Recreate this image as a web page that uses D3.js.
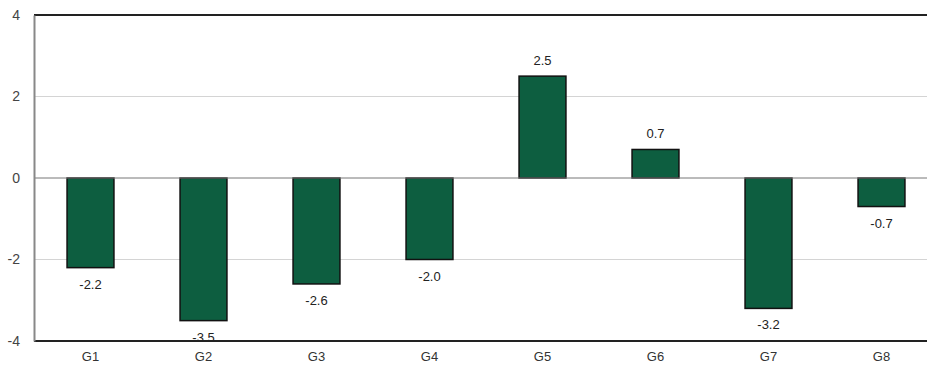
<!DOCTYPE html>
<html><head><meta charset="utf-8">
<script src="https://cdn.jsdelivr.net/npm/d3@7"></script>
<style>body{margin:0;background:#fff}svg{display:block}text{font-family:"Liberation Sans",Arial,sans-serif}</style>
</head><body><svg id="c" width="927" height="371"></svg>
<script>
const categories = ["G1","G2","G3","G4","G5","G6","G7","G8"];
const values = [-2.2,-3.5,-2.6,-2.0,2.5,0.7,-3.2,-0.7];
const yTicks = [4,2,0,-2,-4];

const svg = d3.select("#c");
const m = {left:34, top:15, right:-11, bottom:30};
const W = 927, H = 371;
const x = d3.scaleBand().domain(categories).range([m.left, W - m.right]).paddingInner(0.585).paddingOuter(0.2925);
const y = d3.scaleLinear().domain([-4,4]).range([341, 15]);

// gridlines
svg.append("g").selectAll("line").data(yTicks.filter(d => d===2 || d===-2)).join("line")
  .attr("x1", m.left).attr("x2", W).attr("y1", d => y(d)).attr("y2", d => y(d))
  .attr("stroke", "#d4d4d4").attr("stroke-width", 1);

// bars
svg.append("g").selectAll("rect").data(values).join("rect")
  .attr("x", (d,i) => x(categories[i]))
  .attr("width", x.bandwidth())
  .attr("y", d => y(Math.max(0,d)))
  .attr("height", d => Math.abs(y(d) - y(0)))
  .attr("fill", "#0d5e40").attr("stroke", "#111").attr("stroke-width", 1.5);

// zero line
svg.append("line").attr("x1", m.left).attr("x2", W).attr("y1", y(0)).attr("y2", y(0))
  .attr("stroke", "#777").attr("stroke-width", 1);

// frame
svg.append("line").attr("x1", m.left).attr("x2", W).attr("y1", y(4)).attr("y2", y(4)).attr("stroke", "#222").attr("stroke-width", 2);
svg.append("line").attr("x1", m.left).attr("x2", W).attr("y1", y(-4)).attr("y2", y(-4)).attr("stroke", "#222").attr("stroke-width", 2);

// y axis
const ya = d3.axisLeft(y).tickValues(yTicks).tickSize(0).tickPadding(14).tickFormat(d => String(d));
const gy = svg.append("g").attr("transform", `translate(${m.left},0)`).call(ya);
gy.select(".domain").attr("stroke", "#888").attr("stroke-width", 2);
gy.selectAll("text").attr("font-size", 14).attr("fill", "#444");

// x axis
const xa = d3.axisBottom(x).tickSize(0).tickPadding(11);
const gx = svg.append("g").attr("transform", `translate(0,${y(-4)})`).call(xa);
gx.select(".domain").remove();
gx.selectAll("text").attr("font-size", 13).attr("fill", "#333");

// value labels
svg.append("g").selectAll("text").data(values).join("text")
  .attr("x", (d,i) => x(categories[i]) + x.bandwidth()/2)
  .attr("y", d => d >= 0 ? y(d) - 11 : y(d) + 21)
  .attr("text-anchor", "middle").attr("font-size", 13).attr("fill", "#222")
  .text(d => d.toFixed(1));
</script></body></html>
